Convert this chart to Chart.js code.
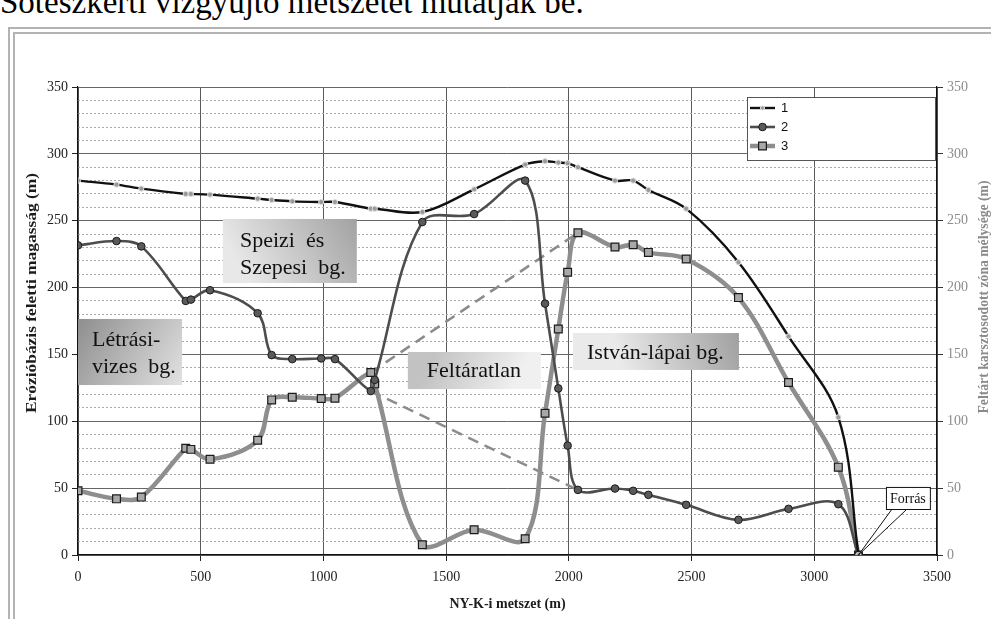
<!DOCTYPE html>
<html lang="hu">
<head>
<meta charset="utf-8">
<title>NY-K-i metszet</title>
<script src="https://cdn.jsdelivr.net/npm/chart.js@4.4.1/dist/chart.umd.min.js"></script>
<style>
  html, body { margin: 0; padding: 0; background: #fff; }
  body { width: 991px; height: 619px; position: relative; overflow: hidden; }
  .lead {
    position: absolute; left: 0; top: -14px;
    font: 33px/33px "Liberation Serif", "Times New Roman", serif;
    color: #000; white-space: nowrap;
  }
  .frame {
    position: absolute; left: 8px; top: 27px; width: 1000px; height: 640px;
    border-left: 7px double #b3b3b3; border-top: 7px double #b3b3b3;
  }
  canvas { position: absolute; left: 0; top: 0; }
</style>
</head>
<body>
<div class="lead">Sötészkerti vízgyűjtő metszetet mutatják be.</div>
<div class="frame"></div>
<canvas id="profile" width="991" height="619"></canvas>
<script>
// Distance along the W-E section (m)
const distanceM = [0, 157, 258, 439, 460, 538, 732, 789, 873, 991, 1047, 1193, 1209,
  1403, 1614, 1822, 1903, 1957, 1995, 2037, 2188, 2262, 2324, 2478, 2691, 2895, 3098, 3180];
// 1: surface height above the erosion base (m)
const series1 = [280, 277, 274, 270, 270, 269.5, 266.5, 265.5, 264.5, 264, 264, 259, 259,
  256.5, 273.5, 292, 294.5, 293.5, 293, 290, 280, 280, 273, 259, 219, 163.5, 103, 0];
// 2: cave floor height above the erosion base (m)
const series2 = [231.6, 234.8, 230.8, 190, 191, 198, 180.8, 149.5, 146.5, 147, 146.5, 122.6, 131,
  249, 255, 280, 188, 124.6, 81.8, 48.7, 49.7, 48, 45, 37.5, 26.3, 34.5, 38, 0];
// 3: explored karstified zone depth (m)
const series3 = [48, 42, 43.3, 79.8, 79, 71.6, 85.8, 116, 118, 117, 117.3, 136.5, 128,
  7.7, 18.9, 12.2, 106, 169, 211.4, 241, 230.3, 232, 226.3, 221.4, 192.5, 129, 65.7, 0];
// Unexplored stretch, bounded by two dashed guide lines
const gapX = [1193, 2037];
const gapTop = [136.5, 241];
const gapBottom = [122.6, 48.7];

const xTicks = [0, 500, 1000, 1500, 2000, 2500, 3000, 3500];
const yTicks = [0, 50, 100, 150, 200, 250, 300, 350];
const seriesNames = ['1', '2', '3'];

const SERIF = '"Liberation Serif", "Times New Roman", serif';
const SANS = '"Liberation Sans", Arial, sans-serif';

const pts = (xs, ys) => xs.map((x, i) => ({ x, y: ys[i] }));

// Cave-system labels, placed in axis units
const labelBoxes = [
  { x0: 590, x1: 1136, y0: 251.3, y1: 203.4, tx: 660, ty: [234.3, 214.8], align: 'left',
    lines: ['Speizi  és', 'Szepesi  bg.'], grad: [1, 0, 0.2, 1], colors: ['#a2a2a2', '#e8e8e8'] },
  { x0: 0, x1: 424, y0: 176.5, y1: 127.1, tx: 57, ty: [160.8, 140.6], align: 'left',
    lines: ['Létrási-', 'vizes  bg.'], grad: [0, 0, 1, 1], colors: ['#8e8e8e', '#e2e2e2'] },
  { x0: 1344, x1: 1886, y0: 151.8, y1: 124.1, tx: 1613, ty: [137.6], align: 'center',
    lines: ['Feltáratlan'], grad: [0.2, 0, 0.8, 1], colors: ['#c2c2c2', '#f0f0f0'] },
  { x0: 2017, x1: 2693, y0: 166, y1: 138.4, tx: 2074, ty: [151], align: 'left',
    lines: ['István-lápai bg.'], grad: [1, 0, 0.3, 1], colors: ['#a0a0a0', '#eaeaea'] }
];

// Spring callout
const spring = { text: 'Forrás', x0: 3292, x1: 3471, y0: 50.9, y1: 34.4, baseA: 3317, baseB: 3378, tipX: 3180, tipY: 0 };

const styles = [
  { color: '#111111', width: 2.4, point: 'circle', radius: 2.6, fill: '#9a9a9a', stroke: '#e0e0e0', pw: 1 },
  { color: '#4d4d4d', width: 2.6, point: 'circle', radius: 3.8, fill: '#5a5a5a', stroke: '#1a1a1a', pw: 1 },
  { color: '#8e8e8e', width: 4.5, point: 'rect', radius: 5.5, fill: '#a8a8a8', stroke: '#1a1a1a', pw: 1.2 }
];

function drawVertical(ctx, text, cx, cy, size, color, length) {
  ctx.save();
  ctx.translate(cx, cy);
  ctx.rotate(-Math.PI / 2);
  ctx.font = `bold ${size}px ${SERIF}`;
  ctx.fillStyle = color;
  ctx.textAlign = 'center';
  ctx.textBaseline = 'middle';
  const w = ctx.measureText(text).width;
  ctx.scale(length / w, 1);
  ctx.fillText(text, 0, 0);
  ctx.restore();
}

const decorations = {
  id: 'decorations',
  beforeDatasetsDraw(chart) {
    const { ctx, scales: { x, y } } = chart;
    labelBoxes.forEach(b => {
      const L = x.getPixelForValue(b.x0), R = x.getPixelForValue(b.x1);
      const T = y.getPixelForValue(b.y0), B = y.getPixelForValue(b.y1);
      const g = ctx.createLinearGradient(L + (R - L) * b.grad[0], T + (B - T) * b.grad[1],
                                         L + (R - L) * b.grad[2], T + (B - T) * b.grad[3]);
      g.addColorStop(0, b.colors[0]);
      g.addColorStop(1, b.colors[1]);
      ctx.save();
      ctx.fillStyle = g;
      ctx.fillRect(L, T, R - L, B - T);
      ctx.font = `22px ${SERIF}`;
      ctx.fillStyle = '#111';
      ctx.textBaseline = 'middle';
      ctx.textAlign = b.align;
      b.lines.forEach((t, i) => ctx.fillText(t, x.getPixelForValue(b.tx), y.getPixelForValue(b.ty[i])));
      ctx.restore();
    });
  },
  afterDatasetsDraw(chart) {
    const { ctx, chartArea, scales: { x, y } } = chart;

    // callout for the spring
    const L = x.getPixelForValue(spring.x0), R = x.getPixelForValue(spring.x1);
    const T = y.getPixelForValue(spring.y0), B = y.getPixelForValue(spring.y1);
    const ax = x.getPixelForValue(spring.baseA), bx = x.getPixelForValue(spring.baseB);
    const tx = x.getPixelForValue(spring.tipX), ty = y.getPixelForValue(spring.tipY);
    ctx.save();
    ctx.fillStyle = '#fff';
    ctx.strokeStyle = '#111';
    ctx.lineWidth = 1;
    ctx.beginPath();
    ctx.moveTo(ax, B); ctx.lineTo(tx, ty); ctx.lineTo(bx, B); ctx.closePath();
    ctx.fill();
    ctx.beginPath();
    ctx.moveTo(ax, B); ctx.lineTo(tx, ty); ctx.lineTo(bx, B);
    ctx.stroke();
    ctx.fillRect(L, T, R - L, B - T);
    ctx.strokeRect(L + 0.5, T + 0.5, R - L, B - T);
    ctx.fillStyle = '#111';
    ctx.font = `14px ${SERIF}`;
    ctx.textAlign = 'center';
    ctx.textBaseline = 'middle';
    ctx.fillText(spring.text, (L + R) / 2, (T + B) / 2 + 1);
    ctx.restore();

    // legend box in the upper right corner of the plot
    const lw = 188, lh = 63;
    const lx = chartArea.right - 2 - lw, ly = chartArea.top + 10;
    ctx.save();
    ctx.fillStyle = '#fff';
    ctx.fillRect(lx, ly, lw, lh);
    ctx.strokeStyle = '#555';
    ctx.lineWidth = 1;
    ctx.strokeRect(lx + 0.5, ly + 0.5, lw, lh);
    seriesNames.forEach((name, i) => {
      const s = styles[i];
      const yy = ly + 11 + i * 19;
      ctx.strokeStyle = s.color;
      ctx.lineWidth = s.width;
      ctx.beginPath();
      ctx.moveTo(lx + 3, yy); ctx.lineTo(lx + 28, yy);
      ctx.stroke();
      ctx.fillStyle = s.fill;
      ctx.strokeStyle = s.stroke;
      ctx.lineWidth = s.pw;
      ctx.beginPath();
      if (s.point === 'rect') {
        const h = s.radius * Math.SQRT1_2;
        ctx.rect(lx + 15.5 - h, yy - h, 2 * h, 2 * h);
      } else {
        ctx.arc(lx + 15.5, yy, s.radius * (i === 0 ? 0.8 : 1), 0, Math.PI * 2);
      }
      ctx.fill();
      ctx.stroke();
      ctx.fillStyle = '#111';
      ctx.font = `13px ${SANS}`;
      ctx.textAlign = 'left';
      ctx.textBaseline = 'middle';
      ctx.fillText(name, lx + 34, yy);
    });
    ctx.restore();
  },
  afterDraw(chart) {
    const { ctx, chartArea } = chart;
    drawVertical(ctx, 'Erózióbázis feletti magasság (m)', 32, 293, 14, '#1c1c1c', 240);
    drawVertical(ctx, 'Feltárt karsztosodott zóna mélysége (m)', 984, 297, 14, '#8a8a8a', 233);
    ctx.save();
    ctx.font = `bold 14px ${SERIF}`;
    ctx.fillStyle = '#1c1c1c';
    ctx.textAlign = 'center';
    ctx.textBaseline = 'middle';
    ctx.fillText('NY-K-i metszet (m)', (chartArea.left + chartArea.right) / 2, 604);
    ctx.restore();
  }
};

const seriesData = [series1, series2, series3];
const datasets = seriesData.map((vals, i) => ({
  label: seriesNames[i],
  data: pts(distanceM, vals),
  borderColor: styles[i].color,
  borderWidth: styles[i].width,
  pointStyle: styles[i].point,
  pointRadius: styles[i].radius,
  pointBackgroundColor: styles[i].fill,
  pointBorderColor: styles[i].stroke,
  pointBorderWidth: styles[i].pw,
  tension: 0.35,
  order: i + 1
}));
[gapTop, gapBottom].forEach((vals, i) => datasets.push({
  label: i ? 'gapBottom' : 'gapTop',
  data: pts(gapX, vals),
  borderColor: '#8c8c8c',
  borderWidth: 2.6,
  borderDash: [11, 7],
  pointRadius: 0,
  tension: 0,
  order: 10
}));

const tickFont = { family: SERIF, size: 14 };
const plain = v => String(v);

new Chart(document.getElementById('profile'), {
  type: 'line',
  data: { datasets },
  plugins: [decorations],
  options: {
    responsive: false,
    devicePixelRatio: 1,
    animation: false,
    events: [],
    layout: { padding: { top: 87, left: 0, right: 0, bottom: 0 } },
    plugins: { legend: { display: false }, tooltip: { enabled: false } },
    scales: {
      x: {
        type: 'linear', min: 0, max: 3500,
        afterBuildTicks: s => { s.ticks = xTicks.map(v => ({ value: v })); },
        afterFit: s => { s.height = 64; },
        ticks: { font: tickFont, color: '#222', padding: 8, maxRotation: 0, callback: plain },
        grid: { color: '#5a5a5a', lineWidth: 1, tickLength: 6, tickColor: '#222' },
        border: { color: '#111', width: 1.2 }
      },
      yMinor: {
        type: 'linear', position: 'left', min: 0, max: 350,
        ticks: { display: false, stepSize: 10 },
        afterFit: s => { s.width = 0; },
        grid: {
          drawTicks: false,
          color: c => (c.tick && c.tick.value % 50 === 0 ? 'rgba(0,0,0,0)' : '#a9a9a9'),
          lineWidth: 1
        },
        border: { display: false, dash: [2, 2] }
      },
      y: {
        type: 'linear', position: 'left', min: 0, max: 350,
        afterBuildTicks: s => { s.ticks = yTicks.map(v => ({ value: v })); },
        afterFit: s => { s.width = 78; },
        ticks: { font: tickFont, color: '#222', padding: 4, callback: plain },
        grid: { color: '#666', lineWidth: 1, tickLength: 6, tickColor: '#222' },
        border: { color: '#111', width: 1.2 }
      },
      y2: {
        type: 'linear', position: 'right', min: 0, max: 350,
        afterBuildTicks: s => { s.ticks = yTicks.map(v => ({ value: v })); },
        afterFit: s => { s.width = 54; },
        ticks: { font: tickFont, color: '#8c8c8c', padding: 4, callback: plain },
        grid: { drawOnChartArea: false, tickLength: 6, tickColor: '#333' },
        border: { color: '#111', width: 1.2 }
      }
    }
  }
});
</script>
</body>
</html>
